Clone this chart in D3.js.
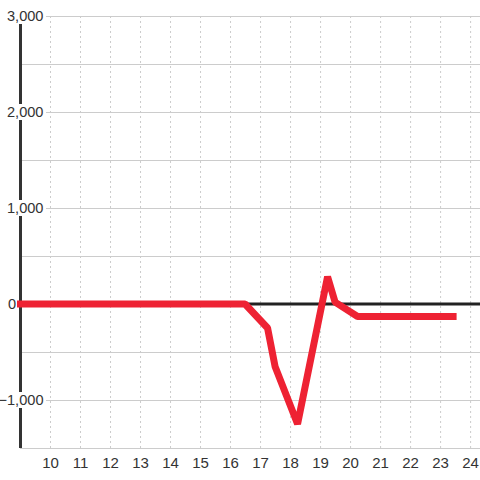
<!DOCTYPE html>
<html>
<head>
<meta charset="utf-8">
<script src="https://cdnjs.cloudflare.com/ajax/libs/d3/7.8.5/d3.min.js"></script>
<style>
  body { margin: 0; background: #fff; }
  svg { display: block; font-family: "Liberation Sans", Arial, sans-serif; }
</style>
</head>
<body>
<svg id="chart" width="480" height="480"></svg>
<script>
// data (hour of day, value)
var hours  = [8.9, 16.5, 17.25, 17.5, 18.25, 19.25, 19.5, 20.25, 23.55];
var values = [0, 0, -250, -650, -1250, 285, 20, -130, -130];
var xTicks = [10, 11, 12, 13, 14, 15, 16, 17, 18, 19, 20, 21, 22, 23, 24];
var yLabels = [3000, 2000, 1000, 0, -1000];
var yGrid = [-1500, -1000, -500, 0, 500, 1000, 1500, 2000, 2500, 3000];

var chartW = 480;
var plotLeft = 20, plotTop = 16, plotBottom = 448;

var svg = d3.select('#chart');

var x = d3.scaleLinear().domain([9, 24.33]).range([plotLeft, chartW]);
var y = d3.scaleLinear().domain([-1500, 3000]).range([plotBottom, plotTop]);

// horizontal grid
svg.append("g").selectAll("line")
    .data(yGrid)
    .enter().append("line")
    .attr("x1", plotLeft).attr("x2", chartW)
    .attr("y1", function (d) { return y(d) + 0.5; })
    .attr("y2", function (d) { return y(d) + 0.5; })
    .attr("stroke", "#ccc").attr("stroke-width", 1);

// vertical dashed grid
svg.append("g").selectAll("line")
    .data(xTicks)
    .enter().append("line")
    .attr("x1", function (d) { return x(d) + 0.5; })
    .attr("x2", function (d) { return x(d) + 0.5; })
    .attr("y1", plotTop).attr("y2", plotBottom)
    .attr("stroke", "#ccc").attr("stroke-width", 1)
    .attr("stroke-dasharray", "2,3");

// zero line
svg.append("line")
    .attr("x1", plotLeft).attr("x2", chartW)
    .attr("y1", y(0)).attr("y2", y(0))
    .attr("stroke", "#222").attr("stroke-width", 3);

// y axis line
svg.append("line")
    .attr("x1", plotLeft + 0.5).attr("x2", plotLeft + 0.5)
    .attr("y1", plotTop).attr("y2", plotBottom)
    .attr("stroke", "#333").attr("stroke-width", 3);

// series
var pts = hours.map(function (h, i) { return [h, values[i]]; });
var line = d3.line()
    .x(function (d) { return x(d[0]); })
    .y(function (d) { return y(d[1]); });

svg.append("path")
    .datum(pts)
    .attr("d", line)
    .attr("fill", "none")
    .attr("stroke", "#ee2233")
    .attr("stroke-width", 7)
    .attr("stroke-linejoin", "bevel");

// y labels with white backing
var fmt = d3.format(",");
var yl = svg.append("g").selectAll("g")
    .data(yLabels)
    .enter().append("g")
    .attr("transform", function (d) { return "translate(0," + y(d) + ")"; });

yl.filter(function (d) { return d !== 0; })
    .append("rect")
    .attr("x", 0).attr("y", -8)
    .attr("width", 46).attr("height", 16)
    .attr("fill", "#fff");

yl.append("text")
    .attr("x", function (d) { return d === 0 ? 16 : 43.5; })
    .attr("dy", "0.35em")
    .attr("text-anchor", "end")
    .attr("font-size", 14.6)
    .attr("fill", "#333")
    .text(function (d) { return fmt(d); });

// x labels
svg.append("g").selectAll("text")
    .data(xTicks)
    .enter().append("text")
    .attr("x", function (d) { return x(d) + 0.5; })
    .attr("y", 468)
    .attr("text-anchor", "middle")
    .attr("font-size", 15)
    .attr("fill", "#333")
    .text(function (d) { return d; });
</script>
</body>
</html>
